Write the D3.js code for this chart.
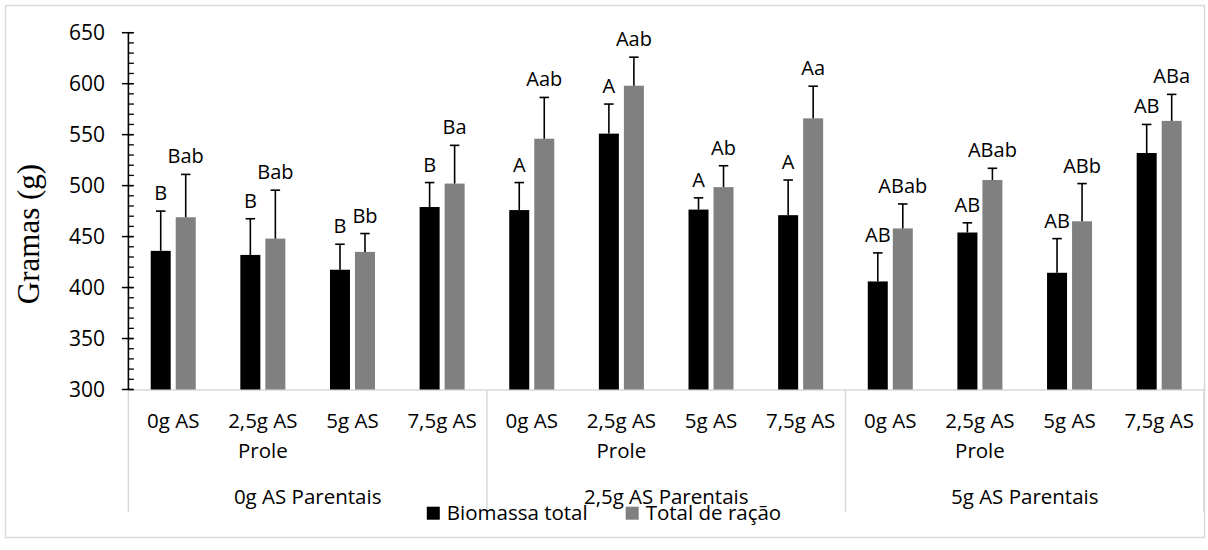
<!DOCTYPE html>
<html>
<head>
<meta charset="utf-8">
<script src="https://cdn.jsdelivr.net/npm/d3@7"></script>
<style>
  html, body { margin: 0; padding: 0; background: #fff; }
  svg { display: block; }
  text { font-family: "Open Sans", "Noto Sans", sans-serif; fill: #000; }
</style>
</head>
<body>
<svg id="chart" width="1208" height="550"></svg>
<script>
// Offspring dose (Prole) inside each parental dose group (Parentais)
const categories = [
  "0g AS", "2,5g AS Prole", "5g AS", "7,5g AS",
  "0g AS", "2,5g AS Prole", "5g AS", "7,5g AS",
  "0g AS", "2,5g AS Prole", "5g AS", "7,5g AS"
];
const groups = ["0g AS Parentais", "2,5g AS Parentais", "5g AS Parentais"];
const seriesNames = ["Biomassa total", "Total de ração"];

// Means (g) and standard deviations
const biomassa    = [436, 432, 417.5, 479, 476, 551, 476.5, 471, 406, 454, 414.5, 532];
const biomassaSD  = [39, 35.5, 25, 24, 27, 29, 11.5, 34.5, 28, 9.5, 33.5, 28];
const racao       = [469, 448, 435, 502, 546, 598, 498.5, 566, 458, 505.5, 465, 563.5];
const racaoSD     = [42, 47.5, 18, 37.5, 40.5, 28, 21, 31.5, 24, 11.5, 37, 26];

// Significance letters
const biomassaLetters = ["B", "B", "B", "B", "A", "A", "A", "A", "AB", "AB", "AB", "AB"];
const racaoLetters    = ["Bab", "Bab", "Bb", "Ba", "Aab", "Aab", "Ab", "Aa", "ABab", "ABab", "ABb", "ABa"];

const yTicks = [300, 350, 400, 450, 500, 550, 600, 650];

const svg = d3.select("#chart");
const colors = ["#000000", "#808080"];

const plot = { left: 128.4, right: 1204, top: 32.7, bottom: 389.5 };

// Outer chart frame
svg.append("rect")
  .attr("x", 5.5).attr("y", 5.5)
  .attr("width", 1199).attr("height", 532)
  .attr("fill", "#fff").attr("stroke", "#d9d9d9").attr("stroke-width", 1.5);

const y = d3.scaleLinear().domain([300, 650]).range([plot.bottom, plot.top]);
const x = d3.scaleBand().domain(d3.range(categories.length))
  .range([plot.left, plot.right]).paddingInner(0).paddingOuter(0);
const xs = d3.scaleBand().domain([0, 1]).range([0, x.bandwidth()])
  .paddingInner(0.2).paddingOuter(0.892);

const rows = d3.range(categories.length).map(i => ({
  i,
  values: [
    { s: 0, v: biomassa[i], sd: biomassaSD[i], letter: biomassaLetters[i] },
    { s: 1, v: racao[i], sd: racaoSD[i], letter: racaoLetters[i] }
  ]
}));

// Category axis frame (light gray)
const catAxis = svg.append("g").attr("stroke", "#d9d9d9").attr("stroke-width", 1.5);
catAxis.append("line")
  .attr("x1", plot.left).attr("x2", plot.right)
  .attr("y1", plot.bottom + 0.5).attr("y2", plot.bottom + 0.5);
const groupSize = categories.length / groups.length;
const groupEdges = d3.range(groups.length + 1).map(g =>
  g < groups.length ? x(g * groupSize) : plot.right);
catAxis.selectAll(".sep").data(groupEdges).join("line")
  .attr("x1", d => d).attr("x2", d => d)
  .attr("y1", plot.bottom).attr("y2", 512);

// Bars
const cat = svg.append("g").selectAll("g").data(rows).join("g")
  .attr("transform", d => `translate(${x(d.i)},0)`);

cat.selectAll("rect").data(d => d.values).join("rect")
  .attr("x", d => xs(d.s))
  .attr("width", xs.bandwidth())
  .attr("y", d => y(d.v))
  .attr("height", d => y(300) - y(d.v))
  .attr("fill", d => colors[d.s]);

// Error bars (upper only)
const capHalf = 4.75;
const err = cat.selectAll("g.err").data(d => d.values).join("g").attr("class", "err")
  .attr("stroke", "#000").attr("stroke-width", 1.6);
err.append("line")
  .attr("x1", d => xs(d.s) + xs.bandwidth() / 2)
  .attr("x2", d => xs(d.s) + xs.bandwidth() / 2)
  .attr("y1", d => y(d.v)).attr("y2", d => y(d.v + d.sd));
err.append("line")
  .attr("x1", d => xs(d.s) + xs.bandwidth() / 2 - capHalf)
  .attr("x2", d => xs(d.s) + xs.bandwidth() / 2 + capHalf)
  .attr("y1", d => y(d.v + d.sd)).attr("y2", d => y(d.v + d.sd));

// Letters above the error bars
cat.selectAll("text.letter").data(d => d.values).join("text").attr("class", "letter")
  .attr("x", d => xs(d.s) + xs.bandwidth() / 2)
  .attr("y", d => y(d.v + d.sd) - 11)
  .attr("text-anchor", "middle")
  .attr("font-size", 20)
  .text(d => d.letter);

// Y axis with crossing major ticks and inside minor ticks
const yAxisG = svg.append("g").attr("transform", `translate(${plot.left},0)`);
yAxisG.selectAll(".minor").data(d3.range(300, 651, 10)).join("line")
  .attr("x1", 0).attr("x2", 5.5)
  .attr("y1", d => y(d)).attr("y2", d => y(d))
  .attr("stroke", "#000").attr("stroke-width", 1.3);
yAxisG.selectAll(".major").data(yTicks).join("line")
  .attr("x1", -6.5).attr("x2", 5)
  .attr("y1", d => y(d)).attr("y2", d => y(d))
  .attr("stroke", "#000").attr("stroke-width", 1.5);
yAxisG.append("line")
  .attr("x1", 0).attr("x2", 0)
  .attr("y1", y(650)).attr("y2", y(300))
  .attr("stroke", "#000").attr("stroke-width", 1.6);
yAxisG.selectAll(".tl").data(yTicks).join("text")
  .attr("x", -23.4)
  .attr("y", d => y(d))
  .attr("dy", "0.36em")
  .attr("text-anchor", "end")
  .attr("font-size", 21)
  .text(d => d);

// Y axis title
svg.append("text")
  .attr("transform", "translate(39,234) rotate(-90)")
  .attr("text-anchor", "middle")
  .style("font-family", "'Liberation Serif', 'Times New Roman', serif")
  .attr("font-size", 31)
  .text("Gramas (g)");

// Category labels, wrapped to the band width
const catLabels = svg.append("g").selectAll("text").data(rows).join("text")
  .attr("x", d => x(d.i) + x.bandwidth() / 2)
  .attr("y", 428.3)
  .attr("text-anchor", "middle")
  .attr("font-size", 20.5);
catLabels.each(function(d) {
  const t = d3.select(this);
  const words = categories[d.i].split(" ");
  let line = [];
  let tspan = t.append("tspan").attr("x", x(d.i) + x.bandwidth() / 2).attr("dy", 0);
  words.forEach(w => {
    line.push(w);
    tspan.text(line.join(" "));
    if (tspan.node().getComputedTextLength() > x.bandwidth() - 4 && line.length > 1) {
      line.pop();
      tspan.text(line.join(" "));
      line = [w];
      tspan = t.append("tspan").attr("x", x(d.i) + x.bandwidth() / 2)
        .attr("dy", 29.4).text(w);
    }
  });
});

// Group labels
svg.append("g").selectAll("text").data(groups).join("text")
  .attr("x", (d, g) => (groupEdges[g] + groupEdges[g + 1]) / 2)
  .attr("y", 504.3)
  .attr("text-anchor", "middle")
  .attr("font-size", 20.5)
  .text(d => d);

// Legend, centered on the chart
const legend = svg.append("g");
const items = legend.selectAll("g").data(seriesNames).join("g");
items.append("rect").attr("width", 13).attr("height", 13).attr("y", 506.7)
  .attr("fill", (d, i) => colors[i]);
items.append("text").attr("x", 20).attr("y", 520).attr("font-size", 20.5).text(d => d);
let cursor = 0;
items.each(function() {
  const g = d3.select(this);
  g.attr("transform", `translate(${cursor},0)`);
  cursor += 20 + g.select("text").node().getComputedTextLength() + 38;
});
const legendWidth = cursor - 38;
legend.attr("transform", `translate(${604 - legendWidth / 2},0)`);
</script>
</body>
</html>
